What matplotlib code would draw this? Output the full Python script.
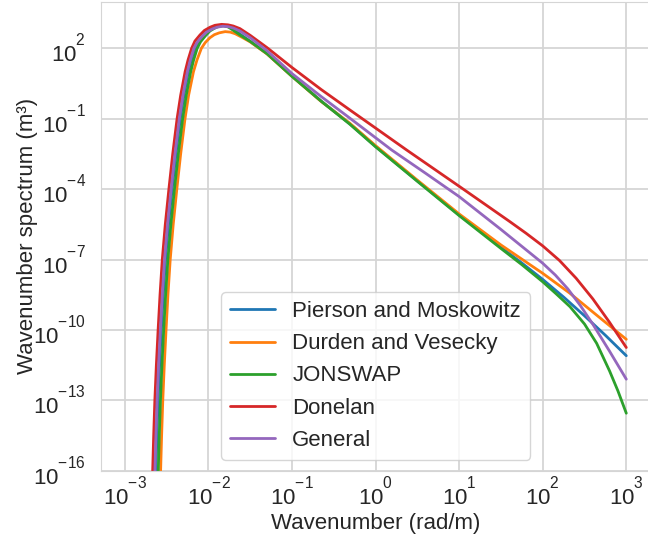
import matplotlib
matplotlib.use("Agg")
import matplotlib.pyplot as plt
import matplotlib._mathtext as mathtext_internals
import numpy as np
import seaborn as sns

# values, as log10 of wavenumber (rad/m) and spectrum (m^3)
pm_logk = [-2.629, -2.617, -2.603, -2.585, -2.564, -2.541, -2.514, -2.478, -2.435, -2.389,
           -2.337, -2.294, -2.241, -2.206, -2.163, -2.123, -2.063, -2.01, -1.944, -1.884,
           -1.82, -1.76, -1.70, -1.62, -1.5, -1.3, -1.0, -0.65, -0.307, 0.0, 0.5, 1.0,
           1.5, 1.75, 2.0, 2.25, 2.5, 2.75, 3.0]
pm_logs = [-16, -14.5, -13, -11.5, -10, -8.5, -7, -5.5, -4, -2.5,
           -1, 0, 1, 1.5, 2.0, 2.28, 2.54, 2.74, 2.88, 2.95,
           2.96, 2.92, 2.80, 2.60, 2.30, 1.78, 0.82, -0.25, -1.22, -2.18, -3.65, -5.10,
           -6.48, -7.15, -7.85, -8.60, -9.40, -10.23, -11.10]

dv_logk = [-2.573, -2.561, -2.547, -2.529, -2.508, -2.485, -2.458, -2.422, -2.379, -2.333,
           -2.281, -2.238, -2.180, -2.138, -2.085, -2.04, -1.983, -1.93, -1.87, -1.80,
           -1.74, -1.68, -1.60, -1.5, -1.3, -1.0, -0.65, -0.307, 0.0, 0.5, 1.0,
           1.5, 2.0, 2.326, 2.645, 3.0]
dv_logs = [-16, -14.5, -13, -11.5, -10, -8.5, -7, -5.5, -4, -2.5,
           -1, 0, 1, 1.5, 2.0, 2.24, 2.45, 2.58, 2.66, 2.71,
           2.69, 2.62, 2.47, 2.27, 1.76, 0.80, -0.27, -1.20, -2.15, -3.62, -5.06,
           -6.38, -7.59, -8.44, -9.37, -10.40]

jon_logk = [-2.601, -2.589, -2.575, -2.557, -2.536, -2.513, -2.486, -2.450, -2.407, -2.361,
            -2.309, -2.266, -2.213, -2.178, -2.135, -2.095, -2.035, -1.982, -1.916, -1.86,
            -1.81, -1.76, -1.70, -1.62, -1.5, -1.3, -1.0, -0.65, -0.307, 0.0, 0.5, 1.0,
            1.5, 1.75, 2.0, 2.16, 2.326, 2.5, 2.645, 2.8, 2.9, 3.0]
jon_logs = [-16, -14.5, -13, -11.5, -10, -8.5, -7, -5.5, -4, -2.5,
            -1, 0, 1, 1.5, 2.0, 2.28, 2.54, 2.74, 2.88, 2.95,
            2.96, 2.90, 2.76, 2.56, 2.29, 1.77, 0.80, -0.26, -1.24, -2.20, -3.67, -5.13,
            -6.53, -7.22, -7.95, -8.46, -9.01, -9.75, -10.57, -11.75, -12.60, -13.55]

don_logk = [-2.668, -2.656, -2.642, -2.624, -2.603, -2.580, -2.553, -2.517, -2.474, -2.428,
            -2.376, -2.333, -2.28, -2.245, -2.202, -2.162, -2.102, -2.049, -1.983, -1.923,
            -1.843, -1.767, -1.704, -1.624, -1.5, -1.3, -1.0, -0.65, -0.307, 0.0, 0.371, 1.0,
            1.6, 1.8, 2.0, 2.2, 2.4, 2.6, 2.8, 3.0]
don_logs = [-16, -14.5, -13, -11.5, -10, -8.5, -7, -5.5, -4, -2.5,
            -1, 0, 1, 1.5, 2.0, 2.31, 2.567, 2.76, 2.895, 2.98,
            3.02, 3.00, 2.95, 2.84, 2.55, 2.03, 1.18, 0.24, -0.63, -1.40, -2.333, -3.88,
            -5.37, -5.88, -6.42, -7.04, -7.80, -8.68, -9.68, -10.75]

gen_logk = [-2.641, -2.629, -2.615, -2.597, -2.576, -2.553, -2.526, -2.490, -2.447, -2.401,
            -2.349, -2.306, -2.253, -2.218, -2.175, -2.135, -2.075, -2.022, -1.956, -1.896,
            -1.83, -1.76, -1.70, -1.62, -1.5, -1.3, -1.0, -0.65, -0.307, 0.192, 0.6, 1.0,
            1.5, 2.0, 2.15, 2.3, 2.45, 2.6, 2.8, 3.0]
gen_logs = [-16, -14.5, -13, -11.5, -10, -8.5, -7, -5.5, -4, -2.5,
            -1, 0, 1, 1.5, 2.0, 2.26, 2.51, 2.69, 2.82, 2.90,
            2.94, 2.92, 2.86, 2.73, 2.45, 1.90, 0.92, -0.06, -0.98, -2.333, -3.33, -4.32,
            -5.72, -7.16, -7.66, -8.25, -8.96, -9.76, -10.91, -12.1]

labels = ["Pierson and Moskowitz", "Durden and Vesecky", "JONSWAP", "Donelan", "General"]
series = [(pm_logk, pm_logs), (dv_logk, dv_logs), (jon_logk, jon_logs),
          (don_logk, don_logs), (gen_logk, gen_logs)]
colors = ["#1f77b4", "#ff7f0e", "#2ca02c", "#d62728", "#9467bd"]

sns.set_style("whitegrid")
plt.rcParams["font.family"] = ["Liberation Sans", "DejaVu Sans"]
plt.rcParams["mathtext.fontset"] = "custom"
plt.rcParams["mathtext.rm"] = "Liberation Sans"
plt.rcParams["mathtext.it"] = "Liberation Sans:italic"
# raise tick-label exponents so they sit on top of the "10", as in the reference
mathtext_internals.FontConstantsBase.sup1 = 1.38

fig = plt.figure(figsize=(6.48, 5.4), dpi=100)
ax = fig.add_axes([0.1554, 0.1283, 0.8485, 0.868])

for (lk, ls), lab, c in zip(series, labels, colors):
    ax.plot(10 ** np.array(lk), 10 ** np.array(ls), color=c, lw=2, label=lab)

ax.set_xscale("log")
ax.set_yscale("log")
ax.set_xlim(10 ** -3.29, 10 ** 3.29)
ax.set_ylim(1e-16, 10 ** 3.973)
ax.set_xticks(10.0 ** np.arange(-3, 4))
ax.set_yticks(10.0 ** np.arange(-16, 3, 3))
ax.minorticks_off()
ax.tick_params(labelsize=16, colors=".15")
ax.tick_params(axis="x", pad=0.5)
ax.tick_params(axis="y", pad=7)
ax.grid(True, color="#d5d5d5", lw=1.3)
for s in ax.spines.values():
    s.set_color("#d5d5d5")

ax.set_xlabel("Wavenumber (rad/m)", fontsize=16, color=".15", labelpad=2)
ax.set_ylabel("Wavenumber spectrum (m³)", fontsize=16, color=".15")
ax.yaxis.set_label_coords(-0.114, 0.5)
ax.legend(loc="lower center", fontsize=16)

fig.savefig("out.png", dpi=100)
